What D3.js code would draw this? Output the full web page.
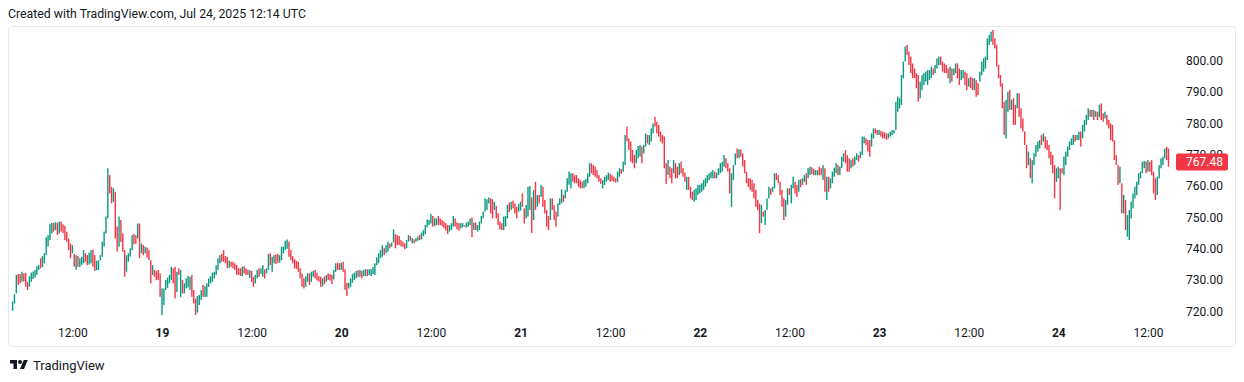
<!DOCTYPE html>
<html><head><meta charset="utf-8">
<script src="https://cdn.jsdelivr.net/npm/d3@7"></script>
<style>body{margin:0;background:#fff;overflow:hidden}svg{display:block;font-family:Roboto,"Liberation Sans",sans-serif}</style>
</head><body><svg id="c" width="1244" height="382"></svg>
<script>
// 15-minute candles, first bar Jul 18 04:00 (chart time)
const startTime = Date.UTC(2025, 6, 18, 4, 0);
const barMinutes = 15;
const highs = [
723.0,725.4,731.5,731.8,731.8,732.5,732.0,732.2,729.3,731.1,732.2,732.6,733.1,734.3,734.6,736.8,737.5,738.4,743.5,744.2,
747.7,748.1,748.1,748.3,748.1,748.5,748.5,747.6,747.1,745.3,743.1,741.5,741.0,738.2,737.8,737.5,736.8,737.3,739.4,738.4,
737.8,738.6,739.4,739.6,737.8,736.0,736.2,737.8,742.1,745.3,750.1,765.5,763.3,759.6,759.1,758.0,746.9,750.1,749.0,744.7,
739.4,737.8,738.4,740.0,744.2,744.6,744.2,747.9,747.9,741.5,741.0,740.5,740.2,739.4,736.2,734.6,733.1,732.8,733.1,732.0,
727.2,727.2,729.9,730.6,731.5,734.1,733.6,734.1,732.5,733.6,733.1,729.9,728.8,730.4,731.2,730.9,731.5,726.7,724.0,724.8,
725.1,726.7,728.3,727.9,
728.8,730.4,731.1,732.2,732.5,734.6,736.8,737.8,738.2,739.4,737.5,737.3,736.0,735.7,735.7,735.2,734.6,733.6,733.6,734.1,
734.3,733.6,733.1,733.0,732.8,730.9,731.5,733.1,733.6,733.6,734.6,733.3,733.6,738.2,738.4,737.3,737.8,738.0,738.2,737.8,
740.5,740.5,742.4,742.8,742.1,739.4,737.5,736.5,736.0,735.7,733.6,732.0,730.4,731.1,732.0,732.0,732.5,732.8,733.1,732.2,
731.1,730.9,730.4,731.0,731.5,732.0,731.8,731.5,733.1,735.2,735.4,735.2,735.4,735.7,733.3,729.0,729.0,730.4,731.8,732.2,
732.8,733.0,733.1,732.8,733.1,733.3,733.3,733.3,733.3,734.0,735.2,737.1,738.4,739.4,741.0,740.0,741.0,742.1,741.5,741.8,
746.0,744.5,744.2,743.9,
742.6,742.1,741.6,742.6,744.2,743.9,743.2,742.8,743.2,743.7,744.2,745.0,745.8,747.4,749.2,749.0,750.9,750.3,749.6,749.5,
750.3,749.5,749.0,748.5,748.0,747.4,747.4,748.0,750.3,749.5,748.2,748.0,748.0,748.0,747.4,748.2,748.5,749.5,749.8,748.2,
748.2,747.4,748.5,750.3,751.7,755.9,755.6,756.2,755.9,755.6,754.8,753.5,751.1,748.5,748.0,750.1,750.3,753.8,754.6,754.8,
755.2,754.3,753.2,754.1,754.8,757.5,752.7,753.8,759.6,759.8,756.2,758.6,761.2,757.0,757.0,760.2,759.6,755.4,752.2,750.3,
755.9,755.9,753.8,751.7,754.3,755.9,758.8,757.0,758.6,762.3,764.4,763.9,763.9,763.3,763.3,762.3,761.7,761.2,761.7,762.0,
763.9,767.1,767.1,766.5,
766.0,764.9,763.3,762.3,761.7,762.8,763.3,764.1,763.7,763.3,762.8,762.3,764.4,765.5,765.2,767.6,776.1,778.8,775.0,774.0,
771.3,769.7,771.3,772.6,772.9,772.4,772.9,776.6,776.1,776.1,778.2,779.8,781.9,780.3,779.3,777.2,776.1,775.6,767.1,768.1,
766.0,765.5,768.1,767.1,766.0,767.1,767.6,765.5,764.1,762.8,762.8,759.6,758.0,758.6,759.1,760.2,760.2,760.7,761.7,762.3,
763.3,763.9,764.4,764.9,764.4,764.1,765.5,767.1,767.6,769.7,768.7,767.1,765.5,763.9,766.5,770.2,771.8,771.5,771.5,770.2,
768.1,764.4,762.3,762.3,761.7,760.7,758.6,755.4,754.3,753.8,751.7,752.2,755.9,759.6,759.1,759.6,763.9,763.9,763.3,761.2,
758.6,755.9,755.4,759.1,
759.1,760.2,762.8,761.2,760.2,761.8,762.0,762.3,763.3,763.9,765.5,766.0,765.8,765.3,764.9,764.9,766.0,765.5,766.5,765.5,
762.8,762.8,762.3,764.4,765.7,767.1,766.5,766.0,769.2,770.3,771.3,769.7,768.7,768.1,768.7,769.2,770.3,769.7,770.8,775.6,
775.6,775.0,774.5,774.5,776.6,778.2,778.2,777.7,777.7,777.4,777.2,776.9,776.6,776.6,777.2,777.7,777.7,786.7,788.3,787.8,
795.2,799.5,804.3,804.8,802.7,801.1,798.9,797.3,795.8,795.2,793.1,795.2,795.8,796.3,796.8,796.8,797.9,797.3,798.4,800.5,
801.1,801.1,799.5,798.9,798.4,797.3,797.9,797.3,797.3,798.9,798.9,797.3,796.8,796.8,796.3,795.8,794.2,794.7,794.2,794.2,
793.6,792.6,796.3,799.5,
800.5,801.1,806.9,808.0,809.0,809.6,806.9,804.8,798.4,795.2,792.6,786.7,787.3,789.9,790.4,787.3,787.8,785.7,789.4,789.4,
784.6,781.4,777.2,772.9,770.8,768.7,768.1,770.3,772.9,774.0,774.5,776.1,776.6,775.6,774.5,772.9,770.8,769.7,766.5,765.5,
766.0,765.5,765.5,769.2,770.8,772.4,774.0,775.0,776.1,776.1,776.1,777.2,777.2,779.3,780.9,782.5,784.6,784.1,784.1,784.1,
783.7,783.5,785.7,786.2,783.0,783.5,782.5,780.9,779.8,779.3,774.5,769.7,766.5,766.0,760.7,757.0,755.4,750.6,752.2,754.9,
757.5,759.6,761.2,763.9,764.4,767.6,767.8,767.6,768.1,767.6,768.1,764.4,762.3,762.8,766.5,768.7,769.2,771.8,772.4,771.8
];
const lows = [
720.1,722.4,725.6,728.3,728.8,729.3,729.4,727.7,726.7,727.7,729.3,730.2,730.7,731.5,733.1,733.6,734.0,735.2,737.8,740.5,
742.6,744.7,745.3,745.8,744.2,744.7,745.3,744.8,742.6,742.1,739.4,736.8,738.4,734.1,733.1,734.1,734.0,734.6,735.2,735.7,
734.6,734.8,735.2,734.1,732.8,733.0,733.1,736.2,737.3,740.5,744.7,749.5,757.5,754.3,754.8,743.1,738.9,740.5,742.0,738.9,
730.9,732.5,735.7,737.3,739.4,741.2,741.5,743.1,736.8,738.4,737.8,738.4,737.0,736.2,728.8,731.5,730.9,729.8,729.9,724.5,
718.7,721.9,726.7,727.4,728.8,729.9,728.8,724.0,726.0,731.5,724.5,725.6,725.6,727.2,727.5,726.7,724.5,722.4,718.7,719.5,
721.9,723.5,724.5,724.5,
724.5,727.7,728.8,729.3,730.4,731.5,733.1,735.2,735.7,735.7,735.2,733.6,733.8,734.1,733.6,733.1,731.5,731.5,731.1,731.1,
732.0,731.5,731.5,730.5,729.3,727.7,728.8,730.4,730.9,731.8,730.9,730.4,732.0,733.1,734.6,732.5,735.2,735.0,735.4,735.4,
736.2,738.4,739.4,739.8,737.3,736.2,735.2,733.6,733.4,732.5,730.4,727.7,727.2,727.7,729.3,728.3,729.3,730.9,730.4,729.7,
729.3,727.7,727.9,728.6,729.3,729.9,729.7,728.6,730.1,732.5,733.1,733.1,733.1,732.5,726.7,724.8,727.2,727.7,729.0,729.9,
730.4,730.8,730.9,730.4,731.1,731.1,731.1,731.5,731.1,731.8,731.5,734.6,735.2,736.8,737.3,737.8,738.4,738.9,740.0,740.5,
741.8,740.0,741.0,741.0,
740.6,740.5,739.7,740.0,742.1,742.4,741.6,741.6,742.1,742.4,742.6,742.8,743.9,744.5,746.7,747.4,747.9,746.9,747.0,747.4,
747.4,747.4,747.0,746.4,745.6,744.5,745.3,745.8,746.9,746.9,746.0,745.6,746.3,746.7,746.9,746.6,746.9,747.4,743.5,745.8,
745.8,745.3,745.8,747.9,749.5,751.7,752.2,754.3,751.1,749.5,752.2,749.5,747.4,746.0,745.8,745.8,746.9,749.5,751.5,752.2,
752.7,751.1,749.5,751.7,752.0,753.2,747.9,749.5,750.1,752.2,744.8,749.0,752.2,753.2,754.3,756.4,753.2,751.1,746.9,745.8,
749.0,752.2,749.0,746.9,750.1,753.8,754.3,754.8,755.9,758.0,760.2,759.1,761.2,760.7,760.7,759.6,759.1,759.1,759.1,759.6,
760.7,762.8,763.9,763.3,
762.8,762.3,761.2,760.5,759.1,760.2,761.2,761.7,761.2,761.5,761.2,760.9,761.2,762.8,763.7,764.4,766.5,774.0,771.3,767.6,
767.1,765.5,767.1,768.7,769.2,767.1,770.2,772.4,773.4,772.9,774.0,776.6,778.8,776.6,775.6,774.0,773.4,765.5,760.5,763.3,
762.3,760.7,763.9,762.3,762.3,763.3,763.9,762.8,761.2,758.6,758.6,755.9,755.4,754.8,755.4,757.0,757.5,758.0,758.6,759.6,
760.7,761.7,762.3,762.3,762.3,762.3,763.3,763.9,764.4,766.0,765.5,764.4,757.5,753.2,761.7,766.5,768.7,768.7,769.2,766.0,
763.9,760.7,759.6,758.6,758.0,755.9,753.2,752.2,744.8,748.0,750.1,747.4,752.2,755.9,757.0,758.0,759.1,761.7,760.7,757.0,
753.2,749.0,750.1,753.8,
757.0,754.3,759.1,757.5,756.4,758.0,759.5,760.2,761.2,760.2,762.3,763.3,763.6,763.3,763.3,763.3,763.3,763.3,761.8,758.0,
755.4,758.0,759.1,760.7,762.8,763.9,763.3,763.3,765.5,767.6,767.1,764.4,764.4,765.5,766.0,766.5,768.1,767.6,768.7,769.7,
773.4,772.9,770.8,769.2,772.4,775.0,776.6,776.1,776.1,775.6,775.0,775.0,774.5,775.0,775.6,776.1,776.6,777.7,783.5,784.6,
785.7,794.2,799.5,801.6,798.4,795.8,794.2,794.2,791.0,786.7,787.8,790.4,792.0,793.1,792.0,793.6,794.2,795.2,795.8,797.3,
798.4,798.4,796.3,795.8,795.8,794.2,792.6,793.1,795.2,795.8,794.2,792.0,793.6,794.2,792.0,790.4,791.5,791.0,790.4,790.4,
788.3,788.8,793.1,795.2,
796.3,797.3,800.0,804.8,805.8,804.8,803.7,797.9,794.2,791.5,784.6,776.1,775.0,783.5,784.1,784.1,779.3,779.3,784.6,781.9,
778.2,777.2,772.9,765.5,766.5,762.3,760.7,766.5,769.2,770.8,771.8,772.9,774.0,771.8,771.3,768.7,766.5,763.9,755.9,761.2,
762.3,752.2,763.9,763.3,766.5,769.2,771.3,772.9,772.9,774.0,774.5,774.5,772.4,775.0,777.2,779.3,780.9,781.9,781.9,780.9,
781.9,780.9,781.9,780.9,780.3,781.4,779.3,778.2,774.5,774.0,768.1,766.5,760.2,760.7,751.1,751.1,745.8,743.7,742.6,749.5,
752.7,755.9,757.0,760.2,762.3,763.9,765.5,763.9,764.4,764.4,763.3,757.5,755.4,757.0,762.3,765.5,766.5,768.7,768.1,766.0
];
const closes = [
722.6,724.9,730.2,729.0,728.9,731.9,730.0,728.4,727.5,730.4,731.6,732.1,732.6,733.8,734.2,734.0,737.0,738.0,742.8,743.6,
746.9,747.5,746.2,747.6,745.0,747.9,746.0,745.2,743.3,742.6,740.0,737.6,740.2,734.8,737.0,735.0,736.2,736.8,738.6,736.2,
735.2,738.0,738.9,735.0,733.6,735.5,735.9,737.4,741.5,744.8,749.3,763.5,758.5,755.5,758.4,744.5,740.0,748.8,743.0,739.8,
732.0,736.9,737.8,739.4,743.5,742.0,741.7,747.0,738.0,740.6,738.4,739.9,737.5,736.6,729.8,733.8,731.4,730.4,730.1,725.5,
726.0,726.5,729.2,730.0,731.0,733.4,729.6,725.5,731.8,731.6,732.4,726.2,728.2,729.8,730.6,730.8,725.6,723.2,719.8,724.0,
724.6,726.0,725.0,727.2,
728.2,729.8,730.5,731.6,732.0,734.0,736.0,737.2,736.3,736.0,735.6,734.2,735.4,734.4,734.0,733.5,732.2,731.9,731.6,733.5,
732.5,732.0,731.8,732.5,729.8,728.4,731.0,732.6,731.4,733.2,734.0,731.0,733.2,737.6,735.2,736.8,737.3,735.6,735.5,737.4,
740.0,740.2,741.9,742.3,738.0,736.8,735.6,734.2,733.8,733.0,731.0,728.3,727.8,730.6,731.6,728.9,732.0,732.4,731.0,730.2,
729.7,728.3,730.0,729.0,731.0,730.4,730.1,729.1,732.6,734.8,733.6,733.3,735.0,733.0,727.5,725.4,728.6,730.0,731.3,731.8,
732.3,731.3,732.7,731.0,732.7,732.9,731.6,733.0,733.1,733.6,734.8,736.6,737.9,739.0,740.4,738.4,740.6,741.6,740.4,741.5,
745.3,742.2,741.4,741.2,
740.9,740.7,740.0,742.1,743.7,742.7,742.9,742.0,742.9,743.3,742.9,744.6,745.4,747.0,748.7,748.8,750.3,747.6,749.1,749.3,
748.0,747.8,747.5,746.9,746.1,745.2,747.0,747.6,749.8,747.5,746.5,746.2,747.6,747.8,747.1,747.9,748.2,749.2,744.5,747.8,
746.2,747.0,748.1,749.8,751.3,755.2,755.4,755.9,752.0,750.5,754.2,750.2,748.0,746.6,746.2,749.6,749.9,753.2,752.2,754.3,
753.2,751.8,750.2,753.6,754.4,753.8,748.6,753.2,758.8,759.2,746.0,757.8,753.0,756.5,755.0,759.6,754.0,751.8,747.6,746.4,
755.0,752.8,749.6,747.5,753.8,755.5,758.2,755.3,758.2,761.8,763.0,763.6,761.8,761.3,761.0,760.3,759.8,759.5,761.2,761.6,
763.4,766.5,764.6,764.0,
763.5,763.0,761.8,761.0,761.3,762.3,762.9,763.6,761.8,761.7,761.5,761.2,763.9,765.0,764.2,767.0,775.2,774.6,772.0,768.5,
767.8,766.3,770.5,772.0,772.4,768.0,772.3,776.0,774.0,775.5,777.6,779.3,779.1,777.3,776.2,774.6,774.0,766.5,761.5,767.4,
763.0,761.5,767.5,763.0,762.6,766.6,764.6,763.4,761.8,762.3,759.3,756.6,756.0,758.0,758.6,759.7,759.9,760.2,761.2,761.8,
762.8,763.4,763.9,764.4,762.9,763.6,765.0,766.5,767.1,769.1,766.2,765.0,758.5,763.0,765.9,769.6,769.2,771.0,769.8,766.8,
764.6,761.4,760.2,759.4,758.7,756.7,754.0,752.9,746.0,753.0,750.6,751.8,755.3,759.0,757.6,759.3,763.3,762.2,761.3,757.8,
754.0,750.2,754.8,758.5,
757.6,759.6,762.2,758.2,757.2,761.2,760.2,761.8,762.8,761.0,764.9,765.4,764.2,763.8,764.5,764.7,763.9,763.6,765.8,759.0,
762.0,758.8,761.8,763.8,765.2,766.6,764.2,765.5,768.6,769.8,768.0,765.2,765.0,767.6,766.6,768.7,769.8,768.2,770.3,774.9,
775.2,773.5,771.5,770.0,776.0,777.7,777.0,776.5,777.3,776.1,775.6,775.4,775.0,776.2,776.8,777.3,777.5,786.0,787.4,787.6,
794.5,799.0,803.7,802.2,799.2,796.6,795.0,794.6,791.8,788.0,792.4,794.6,795.2,795.8,796.3,796.5,797.3,795.8,797.9,800.0,
800.6,799.0,797.0,796.5,796.2,794.8,797.2,793.8,796.8,798.3,795.0,792.8,796.2,796.5,792.8,791.2,793.6,791.6,791.0,793.6,
789.2,789.0,795.8,799.0,
800.0,800.6,806.2,807.4,808.3,805.6,804.4,798.8,795.0,792.2,785.6,777.2,786.4,789.2,785.0,786.8,780.5,780.0,788.8,782.8,
779.2,778.0,773.6,766.5,770.2,763.2,767.4,769.8,772.3,773.5,774.0,773.6,776.0,772.6,772.0,769.5,767.2,764.8,757.0,764.8,
765.4,764.2,764.0,768.6,770.2,771.8,773.5,774.5,775.6,774.6,775.7,776.7,773.4,778.7,780.3,782.0,784.0,782.5,783.6,781.6,
783.2,781.5,785.0,781.8,781.0,783.0,780.0,778.8,775.3,774.6,769.0,767.2,761.0,765.2,752.2,756.4,746.8,749.8,751.5,754.2,
757.0,759.0,760.6,763.4,764.0,767.0,767.4,764.6,767.5,765.0,764.2,758.6,756.4,762.0,766.0,768.2,768.8,771.2,769.0,767.48
];
const priceTicks = [720, 730, 740, 750, 760, 770, 780, 790, 800];
const lastPrice = 767.48;
const titleText = "Created with TradingView.com, Jul 24, 2025 12:14 UTC";
const brandText = "TradingView";

const UP = "#089981", DOWN = "#f23645", TEXT = "#131722";
const svg = d3.select("#c");
const times = closes.map((_, i) => new Date(startTime + i * barMinutes * 60000));
const x = d3.scaleUtc().domain([times[0], times[times.length - 1]]).range([12.6, 1168.5]);
const y = d3.scaleLinear().domain([720, 800]).range([311, 60]);

svg.append("rect").attr("x", 0).attr("y", 0).attr("width", 1244).attr("height", 382).attr("fill", "#fff");
svg.append("rect").attr("x", 8.5).attr("y", 26.5).attr("width", 1227).attr("height", 320)
  .attr("rx", 3).attr("fill", "none").attr("stroke", "#e6e8ee");

svg.append("text").attr("x", 8).attr("y", 18).attr("font-size", 12.3).attr("fill", TEXT).text(titleText);

// candles
const g = svg.append("g");
g.selectAll("rect").data(closes).join("rect")
  .attr("x", (d, i) => x(times[i]) - 0.7)
  .attr("width", 1.4)
  .attr("y", (d, i) => y(highs[i]))
  .attr("height", (d, i) => Math.max(1, y(lows[i]) - y(highs[i])))
  .attr("fill", (d, i) => (i === 0 || d >= closes[i - 1]) ? UP : DOWN);

// price axis
const yAxis = d3.axisRight(y).tickValues(priceTicks).tickFormat(d3.format(".2f")).tickSize(0).tickPadding(0);
const ya = svg.append("g").attr("transform", "translate(1186,0.5)").call(yAxis);
ya.select(".domain").remove();
ya.selectAll("text").attr("font-size", 12).attr("fill", TEXT).attr("font-family", "Roboto");

// last price tag
const ly = y(lastPrice);
svg.append("rect").attr("x", 1176).attr("y", ly - 8.5).attr("width", 52).attr("height", 17).attr("rx", 2).attr("fill", DOWN);
svg.append("text").attr("x", 1186).attr("y", ly).attr("dy", "0.35em").attr("font-size", 12)
  .attr("fill", "#fff").text(d3.format(".2f")(lastPrice));

// time axis
const tickTimes = d3.utcHour.every(12).range(times[0], times[times.length - 1]);
const xAxis = d3.axisBottom(x).tickValues(tickTimes)
  .tickFormat(d => d.getUTCHours() === 0 ? d3.utcFormat("%-d")(d) : d3.utcFormat("%H:%M")(d))
  .tickSize(0).tickPadding(3);
const xa = svg.append("g").attr("transform", "translate(0,325)").call(xAxis);
xa.select(".domain").remove();
xa.selectAll("text").attr("font-size", 12).attr("fill", TEXT).attr("font-family", "Roboto")
  .attr("font-weight", d => d.getUTCHours() === 0 ? 700 : 400);

// brand
const logo = svg.append("g").attr("transform", "translate(10,358) scale(0.5)").attr("fill", TEXT);
logo.append("path").attr("d", "M14 22H7V11H0V4h14v18z");
logo.append("circle").attr("cx", 20).attr("cy", 8).attr("r", 4);
logo.append("path").attr("d", "M28 22h-8l7.5-18h8L28 22z");
svg.append("text").attr("x", 33).attr("y", 370).attr("font-size", 13).attr("fill", TEXT).text(brandText);
</script>
</body></html>
